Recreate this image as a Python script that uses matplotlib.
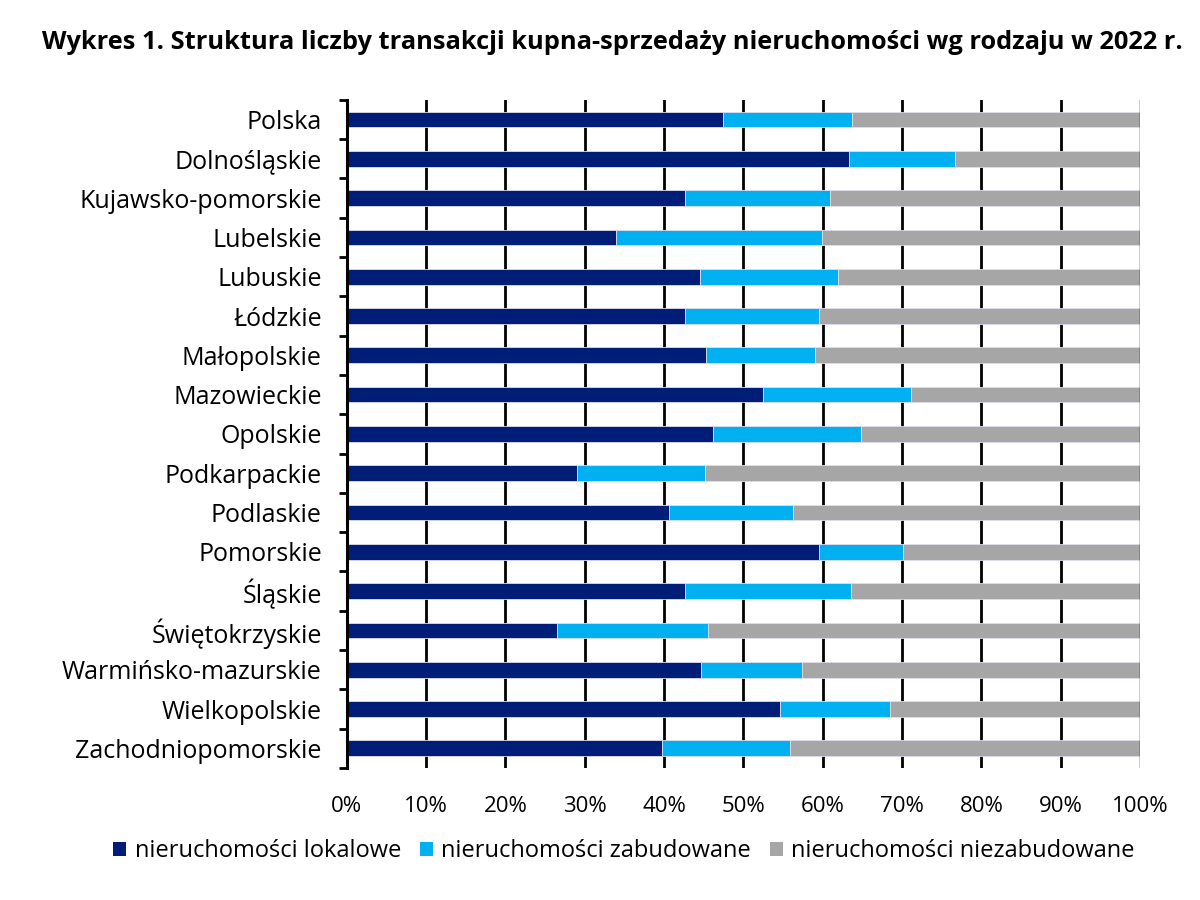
import matplotlib
matplotlib.use("Agg")
import matplotlib.pyplot as plt
from matplotlib.ticker import FuncFormatter, MultipleLocator
import numpy as np

plt.rcParams['font.family'] = ['Open Sans', 'DejaVu Sans']

regions = ["Polska", "Dolnośląskie", "Kujawsko-pomorskie", "Lubelskie", "Lubuskie",
           "Łódzkie", "Małopolskie", "Mazowieckie", "Opolskie", "Podkarpackie",
           "Podlaskie", "Pomorskie", "Śląskie", "Świętokrzyskie",
           "Warmińsko-mazurskie", "Wielkopolskie", "Zachodniopomorskie"]
lokalowe = [47.4, 63.3, 42.7, 34.0, 44.5, 42.6, 45.3, 52.5, 46.2, 29.0,
            40.6, 59.5, 42.6, 26.5, 44.6, 54.6, 39.8]
zabudowane = [16.3, 13.4, 18.2, 25.9, 17.4, 16.9, 13.7, 18.6, 18.6, 16.1,
              15.6, 10.6, 21.0, 19.1, 12.8, 13.9, 16.1]
niezabudowane = [100 - a - b for a, b in zip(lokalowe, zabudowane)]

series_names = ["nieruchomości lokalowe", "nieruchomości zabudowane", "nieruchomości niezabudowane"]
colors = ["#001E78", "#00B0F0", "#A6A6A6"]

fig = plt.figure(figsize=(12, 9), dpi=100)
ax = fig.add_axes([0.289, 0.1467, 0.661, 0.7423])

y = np.arange(len(regions))
left = np.zeros(len(regions))
for vals, name, c in zip([lokalowe, zabudowane, niezabudowane], series_names, colors):
    ax.barh(y, vals, left=left, height=0.4, color=c, label=name,
            edgecolor="#DDDDEE", linewidth=0.6, zorder=3)
    left += np.array(vals)

ax.set_xlim(0, 100)
ax.set_ylim(len(regions) - 0.5, -0.5)
ax.xaxis.set_major_locator(MultipleLocator(10))
ax.xaxis.set_major_formatter(FuncFormatter(lambda v, p: f"{int(round(v))}%"))
ax.set_yticks(y)
ax.set_yticklabels(regions, fontsize=18)
ax.set_yticks(np.arange(len(regions) + 1) - 0.5, minor=True)
ax.tick_params(axis='y', which='major', length=0, pad=18)
ax.tick_params(axis='y', which='minor', length=6, width=2, color='black')
ax.tick_params(axis='x', length=0, labelsize=16, pad=20)

for v in range(10, 100, 10):
    ax.axvline(v, color='black', linewidth=2, zorder=1)
ax.axvline(100, color='black', linewidth=1, zorder=4)

for s in ['top', 'right', 'bottom']:
    ax.spines[s].set_visible(False)
ax.spines['left'].set_linewidth(2.2)
ax.spines['left'].set_zorder(5)

fig.text(0.51, 0.953, "Wykres 1. Struktura liczby transakcji kupna-sprzedaży nieruchomości wg rodzaju w 2022 r.",
         ha='center', va='center', fontsize=18.3, fontweight='bold')

handles, labels = ax.get_legend_handles_labels()
leg = fig.legend(handles, labels, loc='center', bbox_to_anchor=(0.52, 0.054), ncol=3,
                 frameon=False, fontsize=17, handlelength=0.55, handleheight=0.55,
                 handletextpad=0.35, columnspacing=0.8)
for h in leg.legend_handles:
    h.set_edgecolor('none')

fig.savefig("out.png", dpi=100)
